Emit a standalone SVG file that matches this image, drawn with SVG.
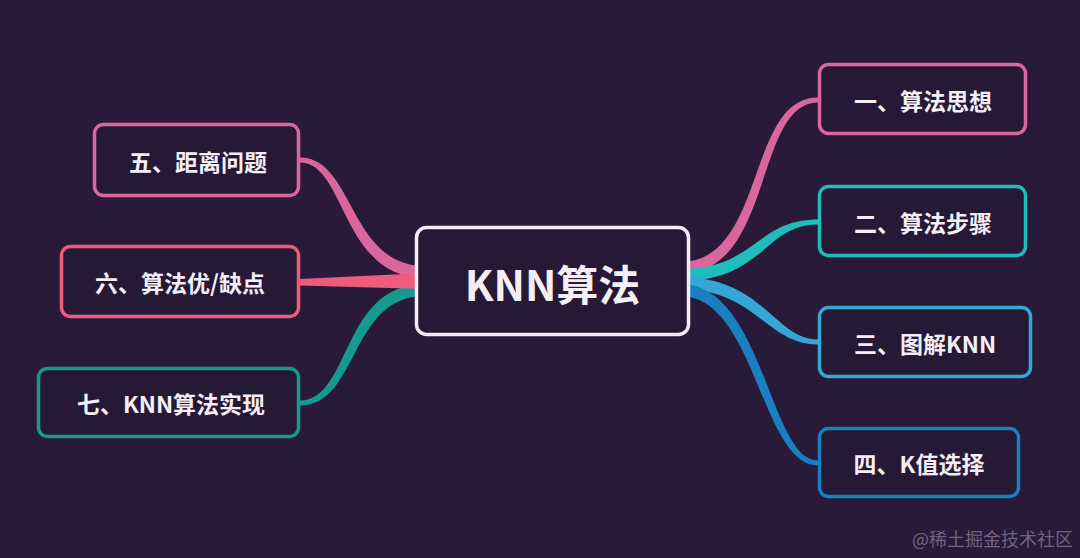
<svg xmlns="http://www.w3.org/2000/svg" width="1080" height="558" viewBox="0 0 1080 558">
<style>
.node{fill:#261935;stroke-width:3.5}
.lbl{font-family:"Noto Sans CJK SC","Noto Sans",sans-serif;font-weight:700;fill:#f4eef7;text-anchor:middle;dominant-baseline:central}
.t{font-size:23px}
.c{font-size:42px}
.wm{font-family:"Noto Sans CJK SC","Noto Sans",sans-serif;font-size:18px;fill:#6f6482}
</style>
<rect x="0" y="0" width="1080" height="558" fill="#281a38"/>
<g id="connectors">
<path d="M680,262 C766,262 746,97.5 818,97.5 L818,102.5 C754,102.5 774,274 680,274 Z" fill="#d9679e"/>
<path d="M680,269 C756,269 756,219.5 818,219.5 L818,224.5 C764,224.5 764,281 680,281 Z" fill="#1fbcbc"/>
<path d="M680,277 C764,277 774,339.5 818,339.5 L818,344.5 C766,344.5 756,289 680,289 Z" fill="#35a6d6"/>
<path d="M680,284 C764,284 769,460.5 818,460.5 L818,465.5 C761,465.5 756,296 680,296 Z" fill="#1a7fc0"/>
<path d="M425,266 C349,266 354,157.5 300,157.5 L300,162.5 C346,162.5 341,278 425,278 Z" fill="#d9679e"/>
<path d="M425,284 C341,284 351,400.5 300,400.5 L300,405.5 C359,405.5 349,296 425,296 Z" fill="#16998f"/>
<path d="M425,273 L300,279 L300,285.5 L425,289 Z" fill="#ee5b7b"/>
</g>
<g id="center">
<rect class="node" x="416.5" y="227.5" width="272" height="107" rx="10" stroke="#f3ecf7"/>
<text class="lbl c" x="552.5" y="282">KNN算法</text>
</g>
<g id="n1">
<rect class="node" x="819.5" y="64.5" width="206" height="69" rx="9" stroke="#d9679e"/>
<text class="lbl t" x="923" y="100">一、算法思想</text>
</g>
<g id="n2">
<rect class="node" x="819.5" y="186.5" width="206" height="69" rx="9" stroke="#1fbcbc"/>
<text class="lbl t" x="923" y="222">二、算法步骤</text>
</g>
<g id="n3">
<rect class="node" x="819.5" y="307.5" width="211" height="69" rx="9" stroke="#35a6d6"/>
<text class="lbl t" x="925" y="343">三、图解KNN</text>
</g>
<g id="n4">
<rect class="node" x="819.5" y="428.5" width="199" height="68" rx="9" stroke="#1a7fc0"/>
<text class="lbl t" x="919" y="463">四、K值选择</text>
</g>
<g id="n5">
<rect class="node" x="94.5" y="124.5" width="204" height="71" rx="9" stroke="#d9679e"/>
<text class="lbl t" x="198" y="161">五、距离问题</text>
</g>
<g id="n6">
<rect class="node" x="61.5" y="246.5" width="237" height="70" rx="9" stroke="#ee5b7b"/>
<text class="lbl t" x="180" y="282">六、算法优/缺点</text>
</g>
<g id="n7">
<rect class="node" x="38.5" y="368.5" width="260" height="68" rx="9" stroke="#16998f"/>
<text class="lbl t" x="171" y="403">七、KNN算法实现</text>
</g>
<text class="wm" x="912" y="546">@稀土掘金技术社区</text>
</svg>
